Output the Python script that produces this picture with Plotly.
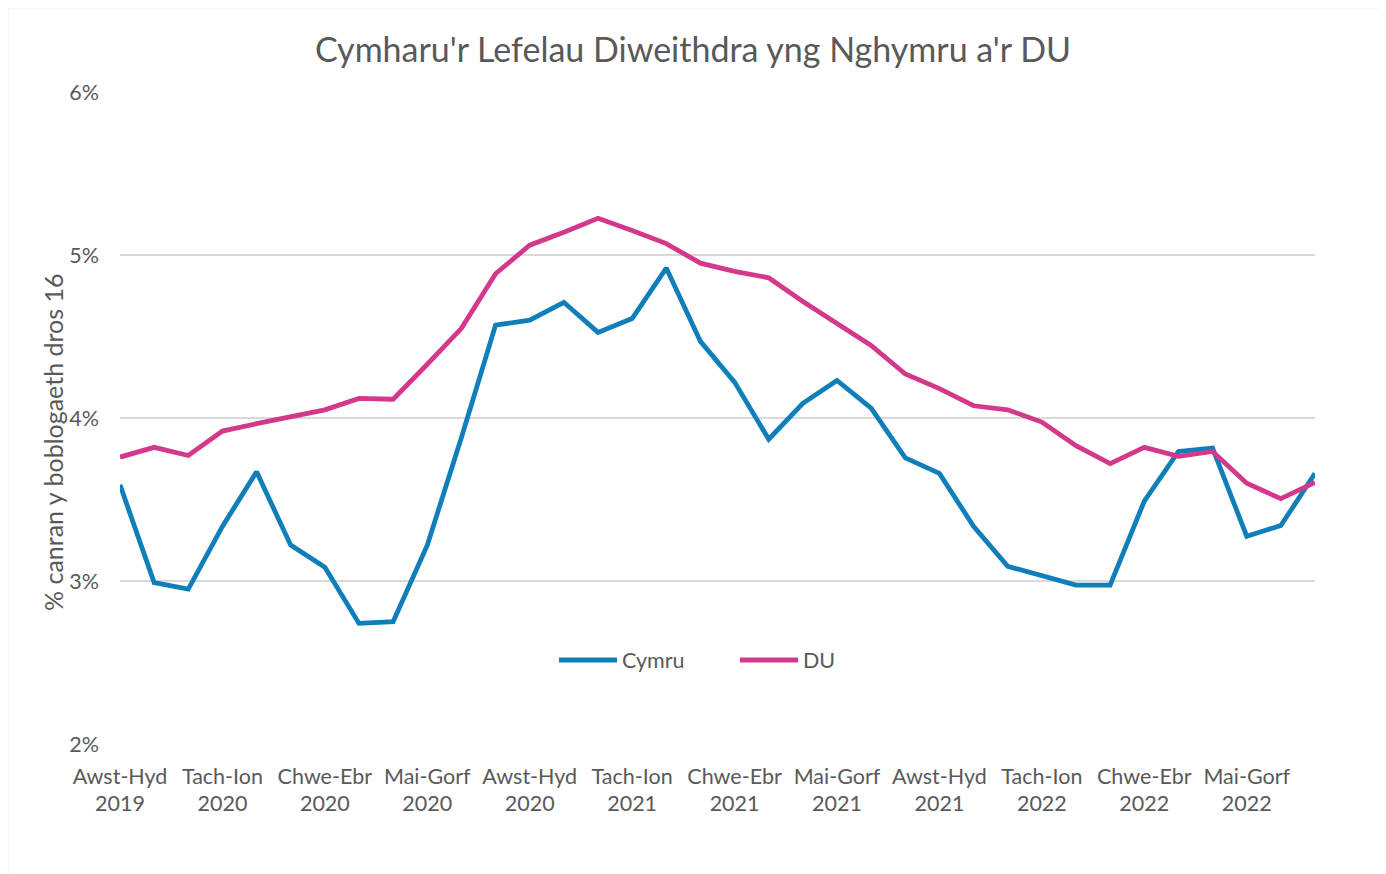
import plotly.graph_objects as go

# ---- data ----
periods = list(range(36))
tick_positions = [0, 3, 6, 9, 12, 15, 18, 21, 24, 27, 30, 33]
tick_labels = [
    "Awst-Hyd<br>2019", "Tach-Ion<br>2020", "Chwe-Ebr<br>2020", "Mai-Gorf<br>2020",
    "Awst-Hyd<br>2020", "Tach-Ion<br>2021", "Chwe-Ebr<br>2021", "Mai-Gorf<br>2021",
    "Awst-Hyd<br>2021", "Tach-Ion<br>2022", "Chwe-Ebr<br>2022", "Mai-Gorf<br>2022",
]
cymru = [3.59, 2.99, 2.95, 3.335, 3.67, 3.22, 3.085, 2.74, 2.75, 3.22,
         3.88, 4.57, 4.60, 4.71, 4.525, 4.61, 4.92, 4.47, 4.22, 3.87,
         4.09, 4.23, 4.06, 3.755, 3.66, 3.335, 3.09, 3.03, 2.975, 2.975,
         3.49, 3.795, 3.815, 3.275, 3.34, 3.66]
du = [3.76, 3.82, 3.77, 3.92, 3.965, 4.01, 4.05, 4.12, 4.115, 4.33,
      4.55, 4.885, 5.06, 5.14, 5.225, 5.15, 5.07, 4.95, 4.90, 4.86,
      4.715, 4.58, 4.445, 4.27, 4.18, 4.075, 4.05, 3.975, 3.83, 3.72,
      3.82, 3.765, 3.795, 3.60, 3.505, 3.605]

title_text = "Cymharu'r Lefelau Diweithdra yng Nghymru a'r DU"
y_title = "% canran y boblogaeth dros 16"

FONT = "Lato, 'Open Sans', sans-serif"
GREY = "#595959"

fig = go.Figure()
fig.add_trace(go.Scatter(x=periods, y=cymru, mode="lines", name="Cymru",
                         line=dict(color="#107FB9", width=4.8)))
fig.add_trace(go.Scatter(x=periods, y=du, mode="lines", name="DU",
                         line=dict(color="#D4388C", width=4.8)))

# page body has an 8px margin: figure coords = screen coords - 8
OFF = 8
W, H = 1386 - OFF, 874 - OFF
L = 120 - OFF
T = 92 - OFF
R = W - (1315 - OFF)
B = H - (744 - OFF)
pw, ph = W - L - R, H - T - B

def px_x(px):
    return (px - OFF - L) / pw

def px_y(py):
    return (H - B - (py - OFF)) / ph

fig.update_layout(
    width=W, height=H,
    margin=dict(l=L, r=R, t=T, b=B, autoexpand=False),
    paper_bgcolor="white", plot_bgcolor="white",
    font=dict(family=FONT, color=GREY, size=21),
    title=dict(text=title_text, x=(693 - OFF) / W, xref="container", xanchor="center",
               y=1 - (50 - OFF) / H, yref="container", yanchor="middle",
               font=dict(family=FONT, size=34, color=GREY)),
    showlegend=True,
    legend=dict(orientation="h", x=px_x(554), xanchor="left",
                y=px_y(660), yanchor="middle",
                font=dict(family=FONT, size=21.5, color=GREY),
                bgcolor="rgba(0,0,0,0)", itemwidth=58, tracegroupgap=0,
                entrywidth=108, entrywidthmode="pixels"),
    xaxis=dict(range=[0, 35], tickmode="array", tickvals=tick_positions,
               ticktext=tick_labels, showgrid=False, zeroline=False,
               showline=False, ticks="", ticklabelstandoff=17,
               tickfont=dict(family=FONT, size=21.5, color=GREY)),
    yaxis=dict(range=[2, 6], tickmode="array", tickvals=[2, 3, 4, 5, 6],
               ticktext=["2%", "3%", "4%", "5%", "6%"],
               showgrid=True, gridcolor="#D9D9D9", gridwidth=1.5,
               zeroline=False, showline=False, ticks="", ticklabelstandoff=20,
               tickfont=dict(family=FONT, size=21.5, color=GREY)),
)

fig.add_annotation(text=y_title, textangle=-90, xref="paper", yref="paper",
                   x=px_x(53), y=px_y(442), xanchor="center", yanchor="middle",
                   showarrow=False, font=dict(family=FONT, size=25, color=GREY))

fig.add_shape(type="rect", xref="paper", yref="paper",
              x0=px_x(7.5), x1=px_x(1380.5), y0=px_y(900), y1=px_y(7.5),
              line=dict(color="#D9D9D9", width=1.5), fillcolor="rgba(0,0,0,0)",
              layer="below")

fig.write_html("out.html")
